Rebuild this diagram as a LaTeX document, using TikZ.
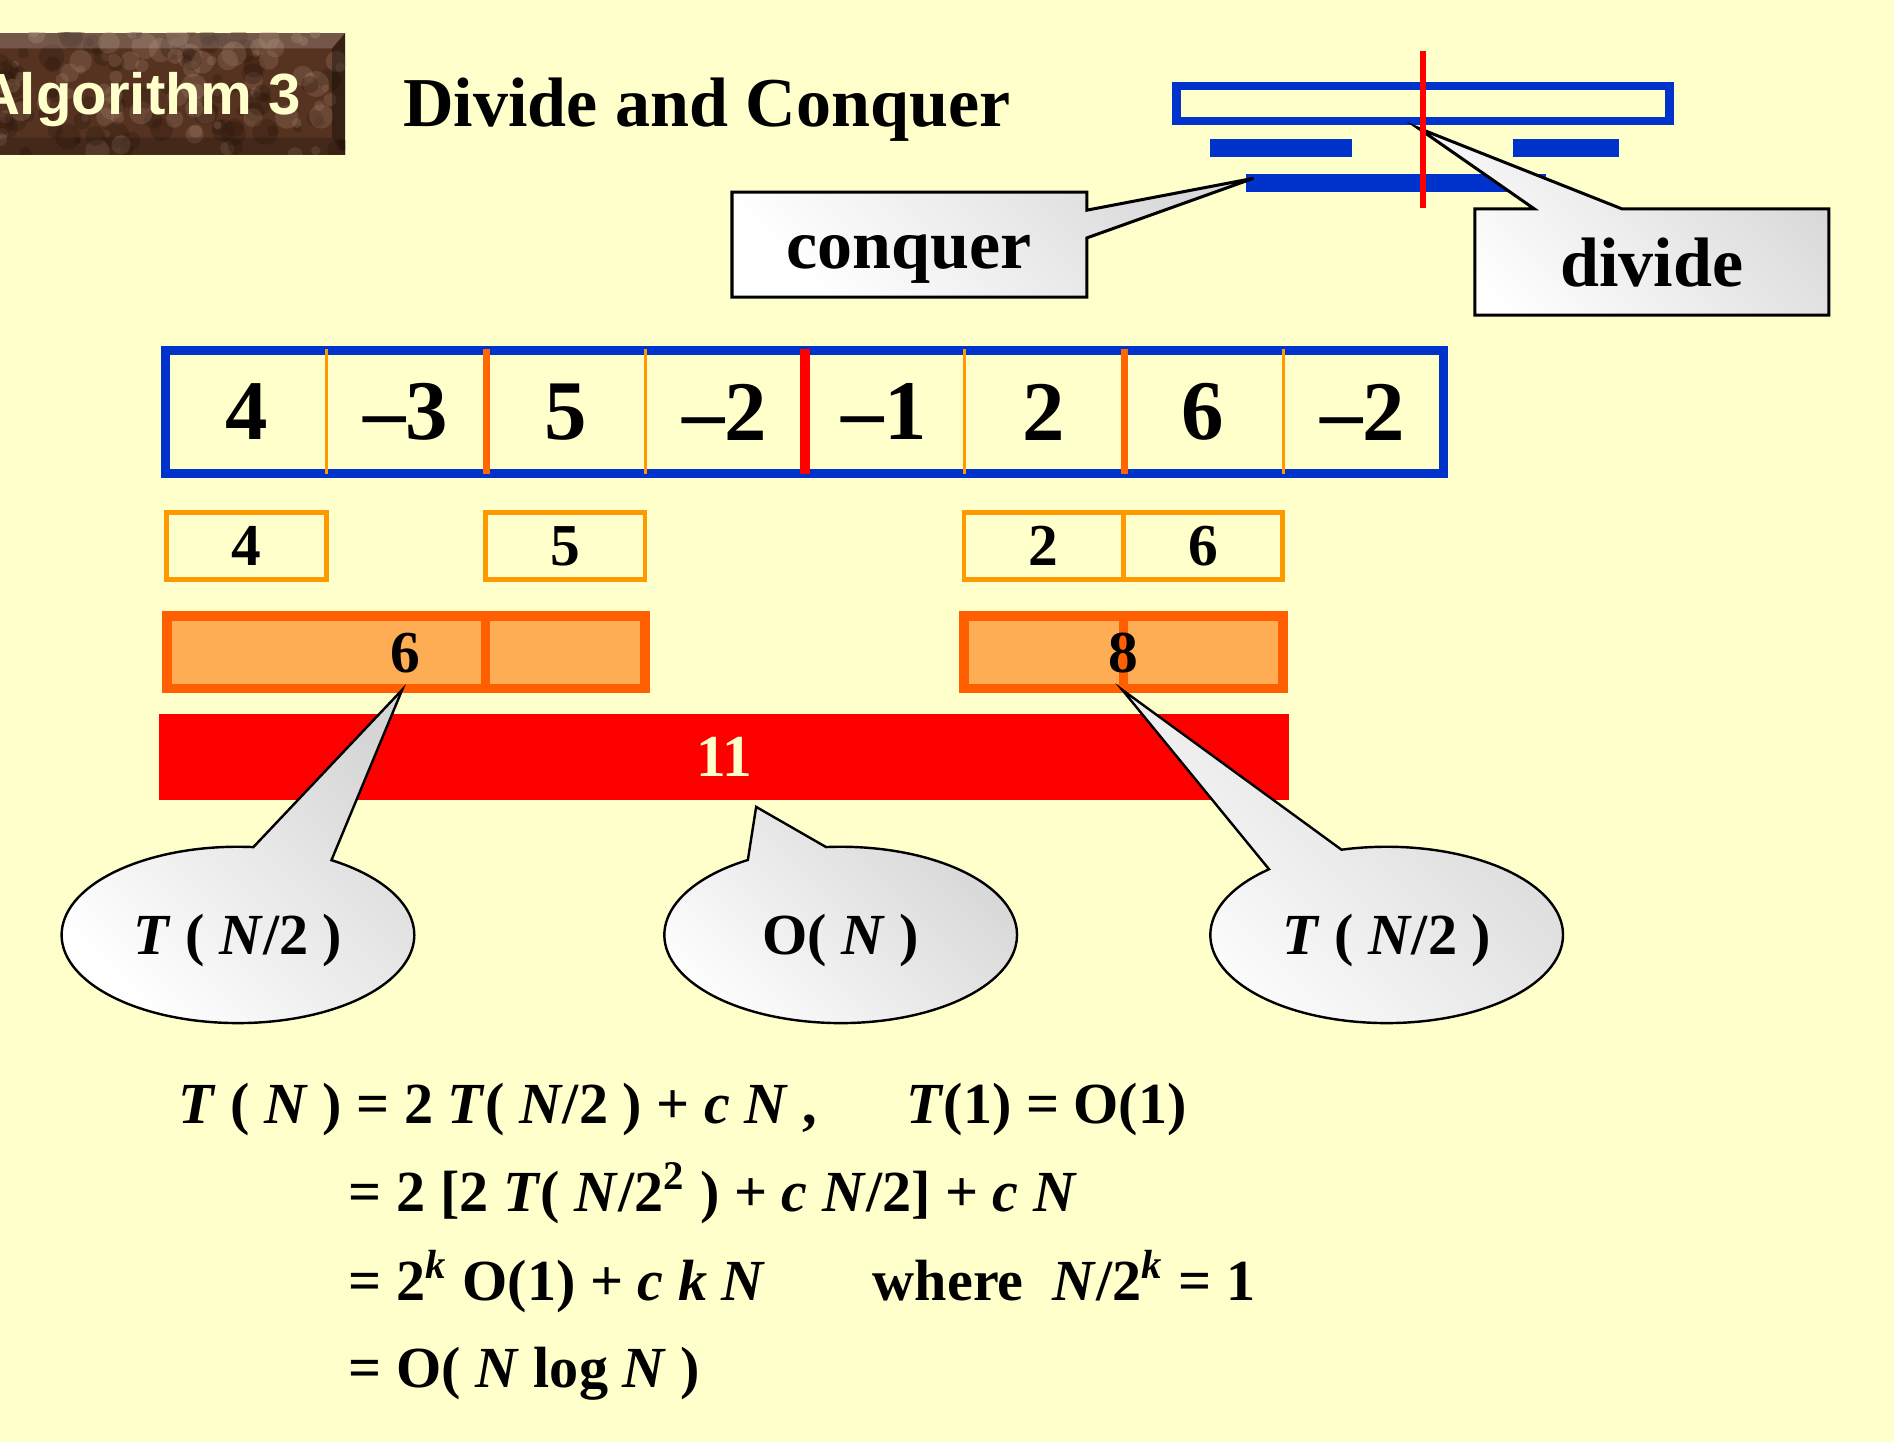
\documentclass[tikz,border=0pt]{standalone}
\usepackage{fontspec}
\setmainfont{Liberation Serif}
\newfontfamily\badgefont{Liberation Sans}
\usetikzlibrary{shapes.callouts}

\definecolor{slidebg}{HTML}{FFFFCC}
\definecolor{frameblue}{HTML}{0033CC}
\definecolor{lightorange}{HTML}{FF9900}
\definecolor{deeporange}{HTML}{FF6600}
\definecolor{sumfill}{HTML}{FFAD55}
\definecolor{sumedge}{HTML}{FF5F00}
\definecolor{cream}{HTML}{FFFFCC}
\definecolor{badgebrown}{HTML}{563321}
\definecolor{badgelight}{HTML}{9C7A64}
\definecolor{badgedark}{HTML}{2A160B}

\newcommand\iv[1]{\textit{#1}}

\begin{document}
\begin{tikzpicture}[
    x=0.1mm, y=-0.1mm,
    bignum/.style={font=\fontsize{20}{24}\selectfont\bfseries},
    smallnum/.style={font=\fontsize{14}{17}\selectfont\bfseries},
    eq/.style={font=\fontsize{13.7}{16}\selectfont\bfseries, inner sep=0, anchor=base west},
    cell/.style={bignum, minimum width=13.2mm, minimum height=10mm, inner sep=0},
    pick/.style={smallnum, draw=lightorange, line width=0.4mm,
        minimum width=13.2mm, minimum height=5.6mm, inner sep=0},
    sumbox/.style={draw=sumedge, fill=sumfill, line width=0.8mm,
        minimum height=6mm, inner sep=0},
    thindiv/.style={lightorange, line width=0.25mm},
    halfdiv/.style={deeporange, line width=0.6mm},
    middiv/.style={red, line width=0.8mm},
    notebox/.style={draw=black, line width=0.25mm, line join=miter,
        top color=gray!30, bottom color=white, shading angle=-45},
    notetext/.style={anchor=base, inner sep=0, font=\fontsize{16.5}{20}\selectfont\bfseries},
    balloon/.style={ellipse callout, draw=black, line width=0.2mm,
        top color=gray!32, bottom color=white, shading angle=-45,
        callout pointer arc=27, minimum width=29.2mm, minimum height=14.6mm,
        inner sep=0, text height=4.3mm, text depth=1mm,
        font=\fontsize{13.7}{16}\selectfont\bfseries}
]
    \useasboundingbox[fill=slidebg] (0,0) rectangle (1568,1194);

    % badge
    \fill[badgebrown] (0,27) rectangle (286,128);
    \begin{scope}
        \clip (0,27) rectangle (286,128);
        \pgfmathsetseed{11}
        \foreach \k in {1,...,160} {
            \pgfmathsetmacro\bx{rnd*286}
            \pgfmathsetmacro\by{27+rnd*101}
            \pgfmathsetmacro\br{3+rnd*8}
            \ifodd\k
                \fill[badgelight, opacity=0.3] (\bx,\by) circle[radius=\br];
            \else
                \fill[badgedark, opacity=0.3] (\bx,\by) circle[radius=\br];
            \fi
        }
    \end{scope}
    \fill[white, opacity=0.18] (0,27) -- (286,27) -- (275,40) -- (0,40) -- cycle;
    \fill[black, opacity=0.35] (286,27) -- (286,128) -- (275,114) -- (275,40) -- cycle;
    \fill[black, opacity=0.2] (0,128) -- (286,128) -- (275,114) -- (0,114) -- cycle;
    \node[anchor=base east, inner sep=0, text=cream,
        font=\badgefont\fontsize{13.7}{16}\selectfont\bfseries] (badge) at (250,95) {Algorithm 3};

    \node[anchor=base west, inner sep=0, font=\fontsize{16.5}{20}\selectfont\bfseries]
        (title) at (333,105) {Divide and Conquer};

    % small divide / conquer sketch
    \draw[frameblue, line width=0.7mm] (974,71) rectangle (1382,100);
    \fill[frameblue] (1001.6,115) rectangle (1119.5,129.7);
    \fill[frameblue] (1252.6,115) rectangle (1340.4,129.7);
    \fill[frameblue] (1031.5,144) rectangle (1280,159);
    \coordinate (conqtip) at (1037.8,147.6);
    \coordinate (divtip) at (1174,106);
    \path[notebox] (606,159) -- (899.7,159) -- (899.7,174) -- (conqtip)
        -- (899.7,197) -- (899.7,246) -- (606,246) -- cycle;
    \node[notetext] (conquer) at (752.5,222) {conquer};
    \path[notebox] (1221,173) -- (1270.3,173) -- (divtip) -- (1343,173)
        -- (1514,173) -- (1514,260.8) -- (1221,260.8) -- cycle;
    \node[notetext] (divide) at (1367.5,237) {divide};
    \draw[red, line width=0.5mm] (1178,42) -- (1178,172);

    % the array
    \foreach \v [count=\i] in {4,--3,5,--2,--1,2,6,--2}
        \node[cell] (c\i) at ({204+132*(\i-1)},341) {\v};
    \draw[frameblue, line width=0.75mm] (c1.north west) rectangle (c8.south east);
    \foreach \i/\s in {1/thindiv,2/halfdiv,3/thindiv,4/middiv,5/thindiv,6/halfdiv,7/thindiv}
        \draw[\s] ([yshift=0.1mm]c\i.north east) -- ([yshift=-0.1mm]c\i.south east);

    \node[pick] (p4) at (204,452) {4};
    \node[pick] (p5) at (468,452) {5};
    \node[pick] (p2) at (864,452) {2};
    \node[pick] (p6) at (996,452) {6};

    \node[sumbox, minimum width=26.4mm] (sa) at (270,540) {};
    \node[sumbox, minimum width=13.2mm] (sb) at (468,540) {};
    \node[sumbox, minimum width=13.2mm] (sc) at (864,540) {};
    \node[sumbox, minimum width=13.2mm] (sd) at (996,540) {};
    \node[smallnum, inner sep=0] (s6) at (336,541) {6};
    \node[smallnum, inner sep=0] (s8) at (930,541) {8};

    \node[smallnum, fill=red, text=cream, minimum width=93.5mm, minimum height=7.1mm,
        inner sep=0] (total) at (599.5,626.5) {11};

    \coordinate (tipL) at (333,571);
    \coordinate (tipM) at (626,668);
    \coordinate (tipR) at (929,571);
    \node[balloon, callout absolute pointer={(tipL)}] (left) at (197,774) {\iv{T} ( \iv{N}/2 )};
    \node[balloon, callout absolute pointer={(tipM)}] (merge) at (696,774) {O( \iv{N} )};
    \node[balloon, callout absolute pointer={(tipR)}] (right) at (1148,774) {\iv{T} ( \iv{N}/2 )};

    % recurrence
    \node[eq] (eq1) at (147,930) {\iv{T} ( \iv{N} ) = 2 \iv{T}( \iv{N}/2 ) + \iv{c} \iv{N} ,};
    \node[eq] (eq1b) at (749.6,930) {\iv{T}(1) = O(1)};
    \node[eq] (eq2) at (288,1003) {= 2 [2 \iv{T}( \iv{N}/2\textsuperscript{2} ) + \iv{c} \iv{N}/2] + \iv{c} \iv{N}};
    \node[eq] (eq3) at (288,1077) {= 2\textsuperscript{\iv{k}} O(1) + \iv{c} \iv{k} \iv{N}};
    \node[eq] (eq3b) at (722,1077) {where~~\iv{N}/2\textsuperscript{\iv{k}} = 1};
    \node[eq] (eq4) at (288,1149) {= O( \iv{N} log \iv{N} )};
\end{tikzpicture}
\end{document}
